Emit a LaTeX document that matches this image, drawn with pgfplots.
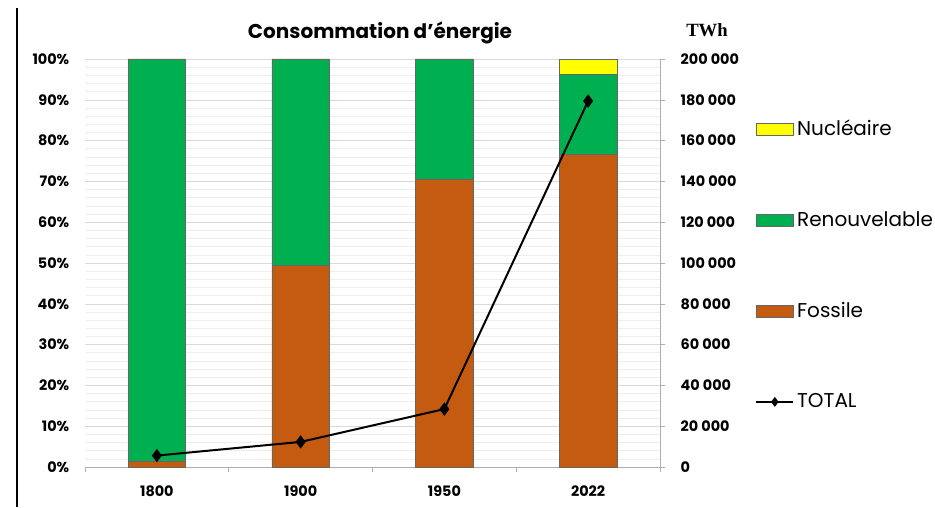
\documentclass[border=0pt]{standalone}
\usepackage{fontspec}
\setmainfont{Poppins}
\newfontfamily\twhfont{Liberation Serif}
\usepackage{pgfplots}
\pgfplotsset{compat=1.18}
\definecolor{fossile}{RGB}{197,90,17}
\definecolor{renouv}{RGB}{0,176,80}
\definecolor{nucl}{RGB}{255,255,0}
\definecolor{grille}{RGB}{217,217,217}
\definecolor{grillemin}{RGB}{238,238,238}

\pgfplotsset{
  barlegend/.style={legend image code/.code={\draw[##1] (0pt,-4.5pt) rectangle (28pt,4.5pt);}},
  linelegend/.style={legend image code/.code={\draw[mark repeat=2,mark phase=2,##1,mark size=2.5pt]
    plot coordinates {(0pt,0pt) (14pt,0pt) (28pt,0pt)};}},
}

\begin{document}
\begin{tikzpicture}[x=0.75pt,y=0.75pt]
\useasboundingbox (0,0) rectangle (935,507);
\draw[black,line width=1.1pt] (17,0) -- (17,499);

% parts en pourcentage
\begin{axis}[
    at={(63.75pt,30pt)}, anchor=south west,
    scale only axis, width=431.25pt, height=306pt,
    ybar stacked, bar width=0.4,
    xmin=-0.5, xmax=3.5, ymin=0, ymax=100,
    xtick={0,1,2,3}, xticklabels={1800,1900,1950,2022},
    minor xtick={-0.5,0.5,1.5,2.5,3.5},
    major x tick style={draw=none},
    minor x tick style={grille!80!black, thin},
    minor tick length=4pt,
    tick align=outside,
    ytick={0,10,...,100},
    yticklabel={\pgfmathprintnumber[fixed,precision=0]{\tick}\%},
    minor y tick num=4,
    ymajorgrids, yminorgrids,
    major grid style={grille, thin},
    minor grid style={grillemin, thin},
    y tick style={draw=none},
    axis x line*=bottom, axis y line*=left,
    y axis line style={draw=none},
    x axis line style={grille!80!black, thin},
    /pgf/number format/assume math mode=true,
    tick label style={font=\bfseries\fontsize{10.8}{12}\selectfont},
    yticklabel style={xshift=-4pt},
    xticklabel style={yshift=-6pt},
]
\addplot[fill=fossile, draw=black!60] coordinates {(0,1.5) (1,49.4) (2,70.6) (3,76.7)};
\addplot[fill=renouv, draw=black!60] coordinates {(0,98.5) (1,50.6) (2,29.4) (3,19.6)};
\addplot[fill=nucl, draw=black!60] coordinates {(0,0) (1,0) (2,0) (3,3.7)};
\end{axis}

% total en TWh
\begin{axis}[
    at={(63.75pt,30pt)}, anchor=south west,
    scale only axis, width=431.25pt, height=306pt,
    xmin=-0.5, xmax=3.5, ymin=0, ymax=200000,
    axis x line=none, axis y line*=right,
    y axis line style={grille!80!black, thin},
    ytick={0,20000,...,200000},
    scaled y ticks=false,
    yticklabel={\pgfmathprintnumber[fixed,precision=0,1000 sep={\ },assume math mode=true]{\tick}},
    tick align=outside, major tick length=4pt,
    y tick style={grille!80!black, thin},
    tick label style={font=\bfseries\fontsize{10.8}{12}\selectfont},
    yticklabel style={xshift=8pt},
    legend style={at={(1.165,0.495)}, anchor=west, draw=none, fill=none,
        inner sep=0pt, row sep=51.5pt, font=\fontsize{15}{17}\selectfont,
        cells={anchor=west}},
]
\addlegendimage{barlegend, fill=nucl, draw=black!60}
\addlegendentry{Nucléaire}
\addlegendimage{barlegend, fill=renouv, draw=black!60}
\addlegendentry{Renouvelable}
\addlegendimage{barlegend, fill=fossile, draw=black!60}
\addlegendentry{Fossile}
\addplot[black, line width=1.5pt, mark=diamond*, mark size=3.8pt, linelegend]
    coordinates {(0,5600) (1,12300) (2,28400) (3,179400)};
\addlegendentry{TOTAL}
\end{axis}

\node[font=\bfseries\fontsize{15}{17}\selectfont] at (380,474) {Consommation d'énergie};
\node[font=\twhfont\bfseries\fontsize{14}{16}\selectfont] at (707,477) {TWh};
\end{tikzpicture}
\end{document}
